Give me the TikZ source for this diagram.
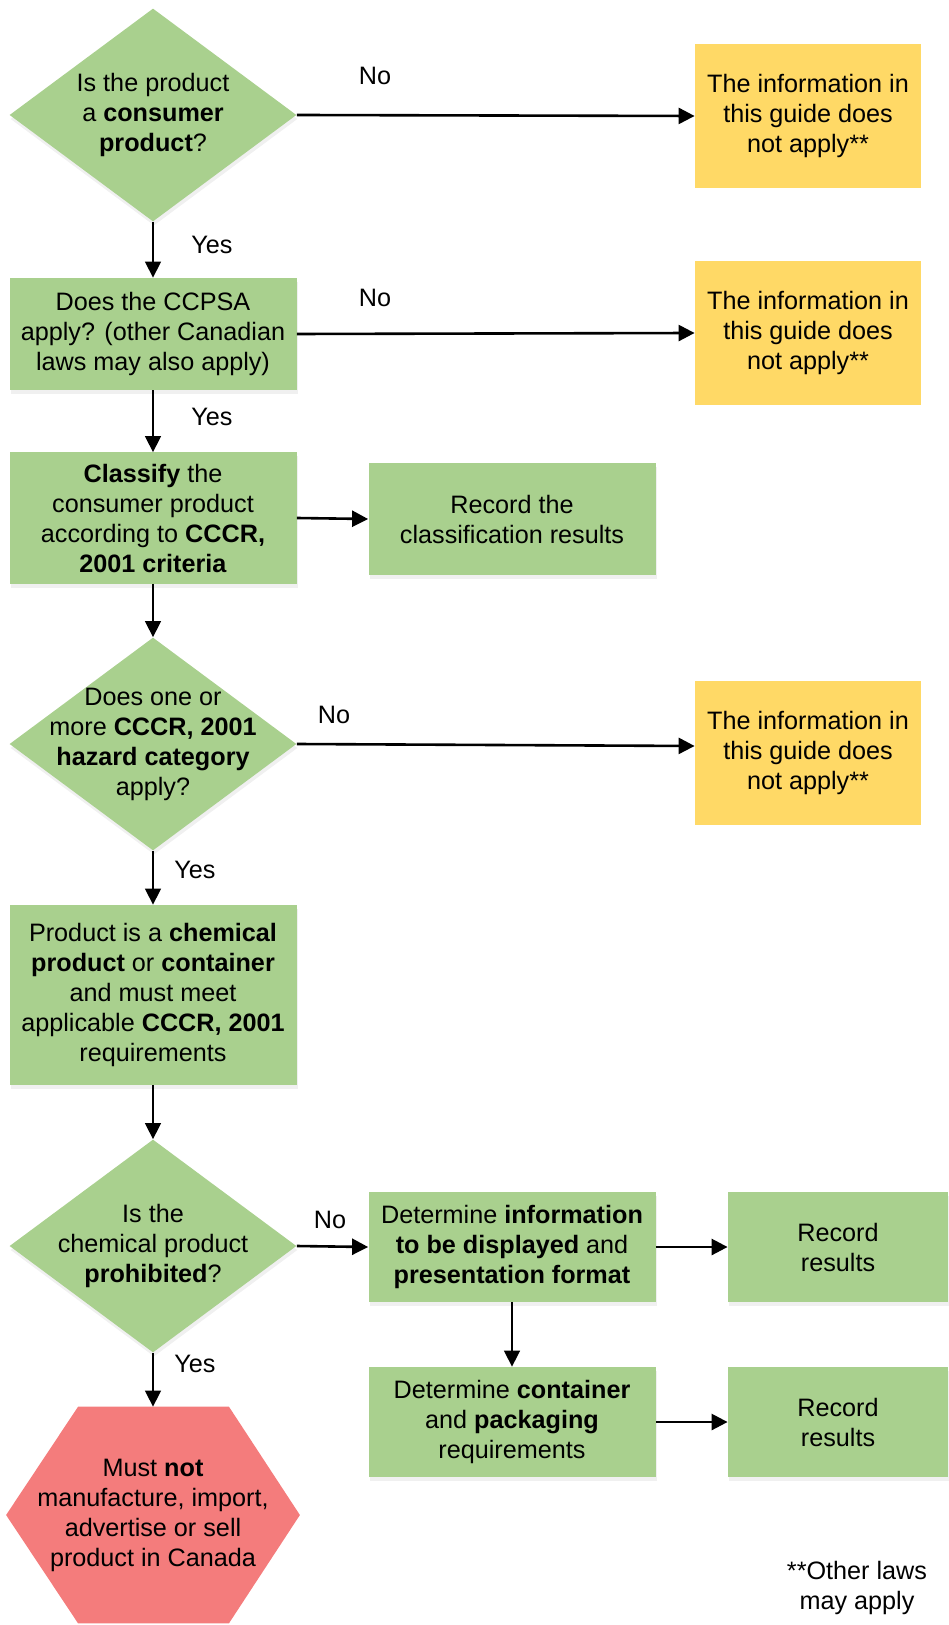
\documentclass[tikz,border=0pt]{standalone}
\usepackage{fontspec}
\setmainfont{Liberation Sans}
\usetikzlibrary{shapes.geometric,arrows.meta,shadows}
\definecolor{boxgreen}{HTML}{A9D08E}
\definecolor{boxyellow}{HTML}{FFD966}
\definecolor{boxred}{HTML}{F47C7C}
\tikzset{
  procbox/.style={rectangle, fill=boxgreen, inner sep=0pt, align=center,
    minimum width=143.5pt, drop shadow={opacity=0.12, shadow xshift=0.5pt, shadow yshift=-2pt}},
  recbox/.style={procbox, minimum width=110pt, minimum height=55pt},
  infobox/.style={rectangle, fill=boxyellow, inner sep=0pt, align=center,
    minimum width=113pt, minimum height=72pt},
  decision/.style={diamond, fill=boxgreen, inner sep=0pt,
    minimum width=143.5pt, minimum height=106.5pt,
    drop shadow={opacity=0.12, shadow xshift=0.5pt, shadow yshift=-2pt}},
  qtext/.style={align=center, inner sep=0pt},
  answer/.style={inner sep=0pt},
  flow/.style={line width=0.75pt, -{Triangle[length=8pt,width=8pt]}},
  sideflow/.style={flow, line width=1.3pt},
}

\begin{document}
\begin{tikzpicture}[x=0.5pt, y=-0.5pt, font=\fontsize{12.6pt}{15pt}\selectfont]
\useasboundingbox (0,0) rectangle (948,1625);

% first question
\node[decision] (q1) at (153,115) {};
\node[qtext] (q1text) at (q1) {Is the product\\a \textbf{consumer}\\\textbf{product}?};
\node[infobox] (na1) at (808,116) {The information in\\this guide does\\not apply**};

\node[procbox, minimum height=56pt] (ccpsa) at (153,334) {Does the CCPSA\\apply? (other Canadian\\laws may also apply)};
\node[infobox] (na2) at (808,333) {The information in\\this guide does\\not apply**};

\node[procbox, minimum height=65.5pt] (classify) at (153,518) {\textbf{Classify} the\\consumer product\\according to \textbf{CCCR,}\\\textbf{2001 criteria}};
\node[procbox, minimum height=56pt] (recclass) at (512,519) {Record the\\classification results};

% hazard question
\node[decision] (q2) at (153,744) {};
\node[qtext] (q2text) at (q2) {Does one or\\more \textbf{CCCR, 2001}\\\textbf{hazard category}\\apply?};
\node[infobox] (na3) at (808,753) {The information in\\this guide does\\not apply**};

\node[procbox, minimum height=90pt] (chem) at (153,995) {Product is a \textbf{chemical}\\\textbf{product} or \textbf{container}\\and must meet\\applicable \textbf{CCCR, 2001}\\requirements};

% prohibited question
\node[decision] (q3) at (153,1246) {};
\node[qtext] (q3text) at (q3) {Is the\\chemical product\\\textbf{prohibited}?};

\node[procbox, minimum height=55pt] (detinfo) at (512,1247) {Determine \textbf{information}\\\textbf{to be displayed} and\\\textbf{presentation format}};
\node[recbox] (rec1) at (838,1247) {Record\\results};
\node[procbox, minimum height=55pt] (detcont) at (512,1422) {Determine \textbf{container}\\and \textbf{packaging}\\requirements};
\node[recbox] (rec2) at (838,1422) {Record\\results};

% stop sign
\node[minimum width=146.5pt, minimum height=108pt, inner sep=0pt] (ban) at (153,1515) {};
\fill[boxred] (ban.west) -- ([xshift=36pt]ban.north west) -- ([xshift=-35.5pt]ban.north east)
  -- (ban.east) -- ([xshift=-35.5pt]ban.south east) -- ([xshift=36pt]ban.south west) -- cycle;
\node[qtext] (bantext) at (ban) {Must \textbf{not}\\manufacture, import,\\advertise or sell\\product in Canada};

\node[qtext] (note) at (857,1588) {**Other laws\\may apply};

% connectors
\draw[sideflow] (q1.east) -- (na1.west);
\draw[sideflow] (ccpsa.east) -- (na2.west);
\draw[sideflow] (classify.east) -- (recclass.west);
\draw[sideflow] (q2.east) -- ([yshift=3.5pt]na3.west);
\draw[sideflow] (q3.east) -- (detinfo.west);
\draw[sideflow] (detinfo.east) -- (rec1.west);
\draw[sideflow] (detcont.east) -- (rec2.west);

\draw[flow] (q1.south) -- (ccpsa.north);
\draw[flow] (ccpsa.south) -- (classify.north);
\draw[flow] (classify.south) -- (q2.north);
\draw[flow] (q2.south) -- (chem.north);
\draw[flow] (chem.south) -- (q3.north);
\draw[flow] (q3.south) -- (ban.north);
\draw[flow] (detinfo.south) -- (detcont.north);

% answers
\node[answer] (no1) at (375,76) {No};
\node[answer] (no2) at (375,298) {No};
\node[answer] (no3) at (334,715) {No};
\node[answer] (no4) at (330,1220) {No};
\node[answer] (yes1) at (212,245) {Yes};
\node[answer] (yes2) at (212,417) {Yes};
\node[answer] (yes3) at (195,870) {Yes};
\node[answer] (yes4) at (195,1364) {Yes};

\end{tikzpicture}
\end{document}
